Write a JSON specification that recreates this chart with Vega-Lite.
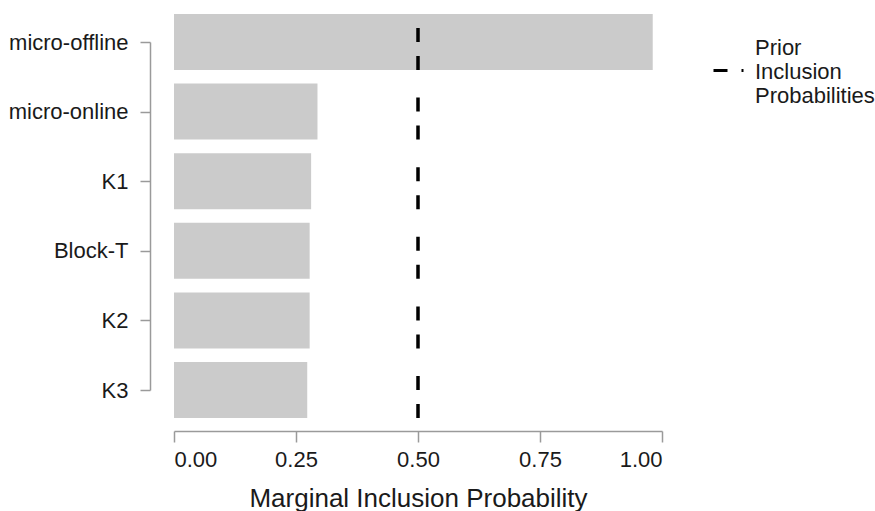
{
  "$schema": "https://vega.github.io/schema/vega-lite/v6.json",
  "width": 488,
  "height": 348,
  "autosize": "none",
  "padding": {"left": 174, "top": 42, "right": 213, "bottom": 121},
  "config": {
    "font": "Liberation Sans",
    "view": {"stroke": null},
    "axis": {
      "domainColor": "#9a9a9a",
      "tickColor": "#9a9a9a",
      "labelColor": "#1a1a1a",
      "titleColor": "#1a1a1a",
      "grid": false,
      "labelFont": "Liberation Sans",
      "titleFont": "Liberation Sans",
      "labelFontSize": 22,
      "titleFontSize": 26,
      "titleFontWeight": "normal",
      "domainWidth": 1.5,
      "tickWidth": 1.5
    }
  },
  "data": {
    "values": [
      {"variable": "micro-offline", "inclusion": 0.981, "prior": 0.5},
      {"variable": "micro-online", "inclusion": 0.294, "prior": 0.5},
      {"variable": "K1", "inclusion": 0.281, "prior": 0.5},
      {"variable": "Block-T", "inclusion": 0.278, "prior": 0.5},
      {"variable": "K2", "inclusion": 0.278, "prior": 0.5},
      {"variable": "K3", "inclusion": 0.273, "prior": 0.5}
    ]
  },
  "encoding": {
    "y": {
      "field": "variable",
      "type": "nominal",
      "sort": null,
      "scale": {"type": "point", "padding": 0},
      "axis": {"title": null, "offset": 24, "tickSize": 10, "labelPadding": 12}
    }
  },
  "layer": [
    {
      "mark": {"type": "bar", "color": "#cbcbcb", "height": 56},
      "encoding": {
        "x": {
          "field": "inclusion",
          "type": "quantitative",
          "title": "Marginal Inclusion Probability",
          "scale": {"domain": [0, 1], "nice": false},
          "axis": {
            "values": [0, 0.25, 0.5, 0.75, 1],
            "format": ".2f",
            "offset": 41,
            "tickSize": 11,
            "labelPadding": 7,
            "titlePadding": 15
          }
        }
      }
    },
    {
      "mark": {
        "type": "rule",
        "strokeWidth": 3.5,
        "strokeDash": [14, 14],
        "strokeDashOffset": 14,
        "yOffset": -28,
        "y2Offset": 28
      },
      "encoding": {
        "x": {"field": "prior", "type": "quantitative", "title": "Marginal Inclusion Probability"},
        "y2": {"field": "variable"},
        "color": {
          "datum": "Prior Inclusion Probabilities",
          "type": "nominal",
          "scale": {"range": ["#000000"]},
          "legend": {
            "title": null,
            "orient": "none",
            "legendX": 538,
            "legendY": 12,
            "padding": 0,
            "symbolType": "stroke",
            "symbolStrokeWidth": 3,
            "symbolDash": [14, 14],
            "symbolSize": 900,
            "labelExpr": "split(datum.label, ' ')",
            "labelFont": "Liberation Sans",
            "labelFontSize": 22,
            "labelColor": "#1a1a1a",
            "labelLineHeight": 23,
            "labelOffset": 10,
            "labelLimit": 300,
            "encode": {"labels": {"update": {"dy": {"value": -23}}}}
          }
        }
      }
    }
  ]
}
